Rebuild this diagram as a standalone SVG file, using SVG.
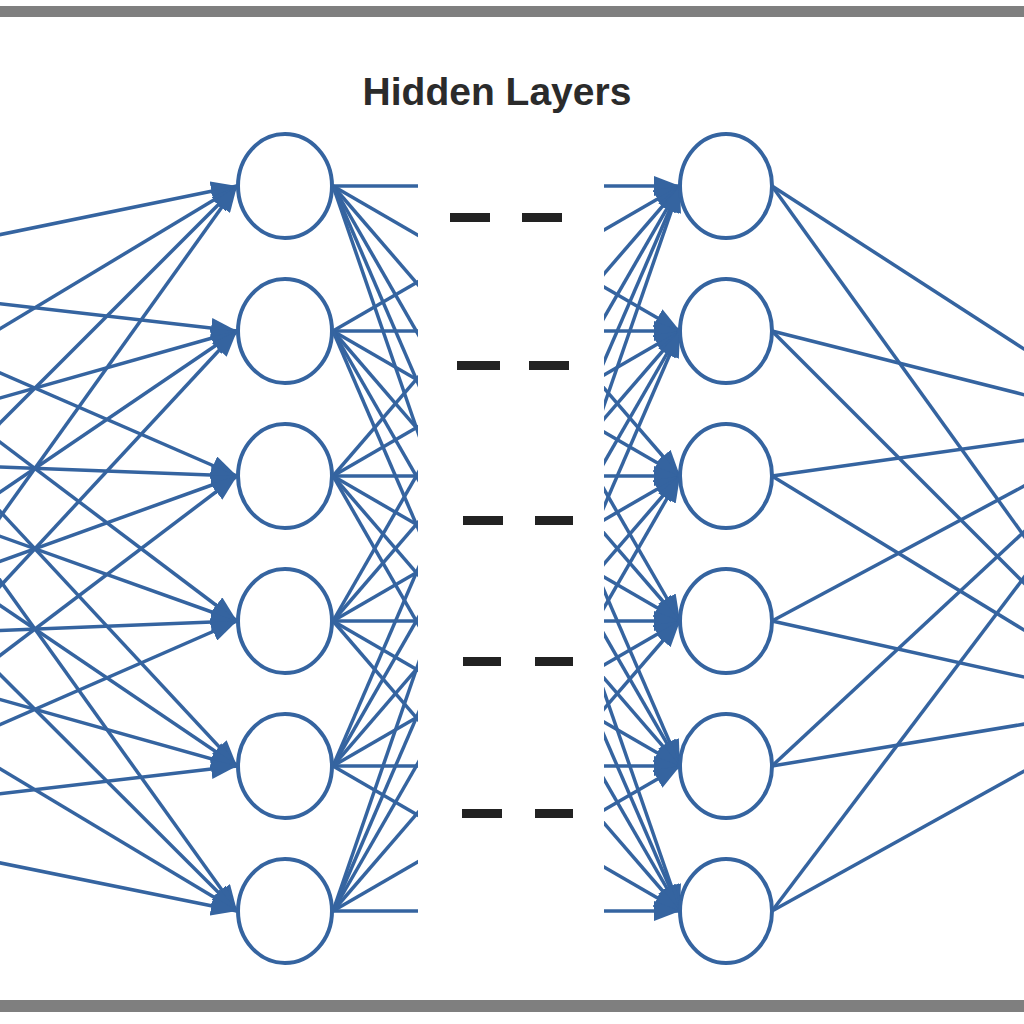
<svg xmlns="http://www.w3.org/2000/svg" width="1024" height="1024" viewBox="0 0 1024 1024">
  <style>
    .edge { stroke: #3564a0; stroke-width: 3.5; fill: none; }
    .arr { marker-end: url(#ah); }
    .node { fill: #ffffff; stroke: #3564a0; stroke-width: 4; }
    .dash { fill: #222222; }
    .bar { fill: #7f7f7f; }
    .title { font-family: "Liberation Sans", Arial, sans-serif; font-weight: bold; font-size: 39px; fill: #2b2b2b; }
  </style>
  <defs>
    <marker id="ah" markerUnits="userSpaceOnUse" markerWidth="26" markerHeight="20" refX="26" refY="10" orient="auto">
      <path d="M0,0 L26,10 L0,20 z" fill="#3564a0"/>
    </marker>
    <clipPath id="clipL"><rect x="300" y="0" width="118" height="1024"/></clipPath>
    <clipPath id="clipR"><rect x="604" y="0" width="120" height="1024"/></clipPath>
  </defs>
  <rect width="1024" height="1024" fill="#ffffff"/>
  <rect class="bar" x="0" y="6" width="1024" height="11"/>
  <rect class="bar" x="0" y="1000" width="1024" height="12"/>

  <text class="title" x="497" y="105" text-anchor="middle">Hidden Layers</text>

  <g id="connectors">
    <g id="input-to-hidden1">
      <line class="edge arr" x1="-216" y1="279" x2="237" y2="186"/>
      <line class="edge arr" x1="-216" y1="279" x2="237" y2="331"/>
      <line class="edge arr" x1="-216" y1="279" x2="237" y2="476"/>
      <line class="edge arr" x1="-216" y1="279" x2="237" y2="621"/>
      <line class="edge arr" x1="-216" y1="279" x2="237" y2="766"/>
      <line class="edge arr" x1="-216" y1="279" x2="237" y2="911"/>
      <line class="edge arr" x1="-216" y1="459" x2="237" y2="186"/>
      <line class="edge arr" x1="-216" y1="459" x2="237" y2="331"/>
      <line class="edge arr" x1="-216" y1="459" x2="237" y2="476"/>
      <line class="edge arr" x1="-216" y1="459" x2="237" y2="621"/>
      <line class="edge arr" x1="-216" y1="459" x2="237" y2="766"/>
      <line class="edge arr" x1="-216" y1="459" x2="237" y2="911"/>
      <line class="edge arr" x1="-216" y1="639" x2="237" y2="186"/>
      <line class="edge arr" x1="-216" y1="639" x2="237" y2="331"/>
      <line class="edge arr" x1="-216" y1="639" x2="237" y2="476"/>
      <line class="edge arr" x1="-216" y1="639" x2="237" y2="621"/>
      <line class="edge arr" x1="-216" y1="639" x2="237" y2="766"/>
      <line class="edge arr" x1="-216" y1="639" x2="237" y2="911"/>
      <line class="edge arr" x1="-216" y1="819" x2="237" y2="186"/>
      <line class="edge arr" x1="-216" y1="819" x2="237" y2="331"/>
      <line class="edge arr" x1="-216" y1="819" x2="237" y2="476"/>
      <line class="edge arr" x1="-216" y1="819" x2="237" y2="621"/>
      <line class="edge arr" x1="-216" y1="819" x2="237" y2="766"/>
      <line class="edge arr" x1="-216" y1="819" x2="237" y2="911"/>
    </g>
    <g id="hidden1-out" clip-path="url(#clipL)">
      <line class="edge" x1="333" y1="186" x2="583" y2="186"/>
      <line class="edge" x1="333" y1="186" x2="583" y2="331"/>
      <line class="edge" x1="333" y1="186" x2="583" y2="476"/>
      <line class="edge" x1="333" y1="186" x2="583" y2="621"/>
      <line class="edge" x1="333" y1="186" x2="583" y2="766"/>
      <line class="edge" x1="333" y1="186" x2="583" y2="911"/>
      <line class="edge" x1="333" y1="331" x2="583" y2="186"/>
      <line class="edge" x1="333" y1="331" x2="583" y2="331"/>
      <line class="edge" x1="333" y1="331" x2="583" y2="476"/>
      <line class="edge" x1="333" y1="331" x2="583" y2="621"/>
      <line class="edge" x1="333" y1="331" x2="583" y2="766"/>
      <line class="edge" x1="333" y1="331" x2="583" y2="911"/>
      <line class="edge" x1="333" y1="476" x2="583" y2="186"/>
      <line class="edge" x1="333" y1="476" x2="583" y2="331"/>
      <line class="edge" x1="333" y1="476" x2="583" y2="476"/>
      <line class="edge" x1="333" y1="476" x2="583" y2="621"/>
      <line class="edge" x1="333" y1="476" x2="583" y2="766"/>
      <line class="edge" x1="333" y1="476" x2="583" y2="911"/>
      <line class="edge" x1="333" y1="621" x2="583" y2="186"/>
      <line class="edge" x1="333" y1="621" x2="583" y2="331"/>
      <line class="edge" x1="333" y1="621" x2="583" y2="476"/>
      <line class="edge" x1="333" y1="621" x2="583" y2="621"/>
      <line class="edge" x1="333" y1="621" x2="583" y2="766"/>
      <line class="edge" x1="333" y1="621" x2="583" y2="911"/>
      <line class="edge" x1="333" y1="766" x2="583" y2="186"/>
      <line class="edge" x1="333" y1="766" x2="583" y2="331"/>
      <line class="edge" x1="333" y1="766" x2="583" y2="476"/>
      <line class="edge" x1="333" y1="766" x2="583" y2="621"/>
      <line class="edge" x1="333" y1="766" x2="583" y2="766"/>
      <line class="edge" x1="333" y1="766" x2="583" y2="911"/>
      <line class="edge" x1="333" y1="911" x2="583" y2="186"/>
      <line class="edge" x1="333" y1="911" x2="583" y2="331"/>
      <line class="edge" x1="333" y1="911" x2="583" y2="476"/>
      <line class="edge" x1="333" y1="911" x2="583" y2="621"/>
      <line class="edge" x1="333" y1="911" x2="583" y2="766"/>
      <line class="edge" x1="333" y1="911" x2="583" y2="911"/>
    </g>
    <g id="into-hidden2" clip-path="url(#clipR)">
      <line class="edge arr" x1="429" y1="186" x2="680" y2="186"/>
      <line class="edge arr" x1="429" y1="331" x2="680" y2="186"/>
      <line class="edge arr" x1="429" y1="476" x2="680" y2="186"/>
      <line class="edge arr" x1="429" y1="621" x2="680" y2="186"/>
      <line class="edge arr" x1="429" y1="766" x2="680" y2="186"/>
      <line class="edge arr" x1="429" y1="911" x2="680" y2="186"/>
      <line class="edge arr" x1="429" y1="186" x2="680" y2="331"/>
      <line class="edge arr" x1="429" y1="331" x2="680" y2="331"/>
      <line class="edge arr" x1="429" y1="476" x2="680" y2="331"/>
      <line class="edge arr" x1="429" y1="621" x2="680" y2="331"/>
      <line class="edge arr" x1="429" y1="766" x2="680" y2="331"/>
      <line class="edge arr" x1="429" y1="911" x2="680" y2="331"/>
      <line class="edge arr" x1="429" y1="186" x2="680" y2="476"/>
      <line class="edge arr" x1="429" y1="331" x2="680" y2="476"/>
      <line class="edge arr" x1="429" y1="476" x2="680" y2="476"/>
      <line class="edge arr" x1="429" y1="621" x2="680" y2="476"/>
      <line class="edge arr" x1="429" y1="766" x2="680" y2="476"/>
      <line class="edge arr" x1="429" y1="911" x2="680" y2="476"/>
      <line class="edge arr" x1="429" y1="186" x2="680" y2="621"/>
      <line class="edge arr" x1="429" y1="331" x2="680" y2="621"/>
      <line class="edge arr" x1="429" y1="476" x2="680" y2="621"/>
      <line class="edge arr" x1="429" y1="621" x2="680" y2="621"/>
      <line class="edge arr" x1="429" y1="766" x2="680" y2="621"/>
      <line class="edge arr" x1="429" y1="911" x2="680" y2="621"/>
      <line class="edge arr" x1="429" y1="186" x2="680" y2="766"/>
      <line class="edge arr" x1="429" y1="331" x2="680" y2="766"/>
      <line class="edge arr" x1="429" y1="476" x2="680" y2="766"/>
      <line class="edge arr" x1="429" y1="621" x2="680" y2="766"/>
      <line class="edge arr" x1="429" y1="766" x2="680" y2="766"/>
      <line class="edge arr" x1="429" y1="911" x2="680" y2="766"/>
      <line class="edge arr" x1="429" y1="186" x2="680" y2="911"/>
      <line class="edge arr" x1="429" y1="331" x2="680" y2="911"/>
      <line class="edge arr" x1="429" y1="476" x2="680" y2="911"/>
      <line class="edge arr" x1="429" y1="621" x2="680" y2="911"/>
      <line class="edge arr" x1="429" y1="766" x2="680" y2="911"/>
      <line class="edge arr" x1="429" y1="911" x2="680" y2="911"/>
    </g>
    <g id="hidden2-out">
      <line class="edge arr" x1="772" y1="186" x2="1140" y2="424"/>
      <line class="edge arr" x1="772" y1="331" x2="1140" y2="424"/>
      <line class="edge arr" x1="772" y1="476" x2="1140" y2="424"/>
      <line class="edge arr" x1="772" y1="621" x2="1140" y2="424"/>
      <line class="edge arr" x1="772" y1="766" x2="1140" y2="424"/>
      <line class="edge arr" x1="772" y1="911" x2="1140" y2="424"/>
      <line class="edge arr" x1="772" y1="186" x2="1145" y2="704"/>
      <line class="edge arr" x1="772" y1="331" x2="1145" y2="704"/>
      <line class="edge arr" x1="772" y1="476" x2="1145" y2="704"/>
      <line class="edge arr" x1="772" y1="621" x2="1145" y2="704"/>
      <line class="edge arr" x1="772" y1="766" x2="1145" y2="704"/>
      <line class="edge arr" x1="772" y1="911" x2="1145" y2="704"/>
    </g>
  </g>

  <g id="hidden1-n1"><ellipse class="node" cx="285" cy="186" rx="47" ry="52"/></g>
  <g id="hidden1-n2"><ellipse class="node" cx="285" cy="331" rx="47" ry="52"/></g>
  <g id="hidden1-n3"><ellipse class="node" cx="285" cy="476" rx="47" ry="52"/></g>
  <g id="hidden1-n4"><ellipse class="node" cx="285" cy="621" rx="47" ry="52"/></g>
  <g id="hidden1-n5"><ellipse class="node" cx="285" cy="766" rx="47" ry="52"/></g>
  <g id="hidden1-n6"><ellipse class="node" cx="285" cy="911" rx="47" ry="52"/></g>

  <g id="hidden2-n1"><ellipse class="node" cx="726" cy="186" rx="46" ry="52"/></g>
  <g id="hidden2-n2"><ellipse class="node" cx="726" cy="331" rx="46" ry="52"/></g>
  <g id="hidden2-n3"><ellipse class="node" cx="726" cy="476" rx="46" ry="52"/></g>
  <g id="hidden2-n4"><ellipse class="node" cx="726" cy="621" rx="46" ry="52"/></g>
  <g id="hidden2-n5"><ellipse class="node" cx="726" cy="766" rx="46" ry="52"/></g>
  <g id="hidden2-n6"><ellipse class="node" cx="726" cy="911" rx="46" ry="52"/></g>

  <g id="ellipsis-dashes">
    <rect class="dash" x="450" y="213" width="40" height="9"/>
    <rect class="dash" x="522" y="213" width="40" height="9"/>
    <rect class="dash" x="457" y="361" width="43" height="9"/>
    <rect class="dash" x="529" y="361" width="40" height="9"/>
    <rect class="dash" x="463" y="516" width="40" height="9"/>
    <rect class="dash" x="535" y="516" width="38" height="9"/>
    <rect class="dash" x="463" y="657" width="38" height="9"/>
    <rect class="dash" x="535" y="657" width="38" height="9"/>
    <rect class="dash" x="462" y="809" width="40" height="9"/>
    <rect class="dash" x="535" y="809" width="38" height="9"/>
  </g>
</svg>
